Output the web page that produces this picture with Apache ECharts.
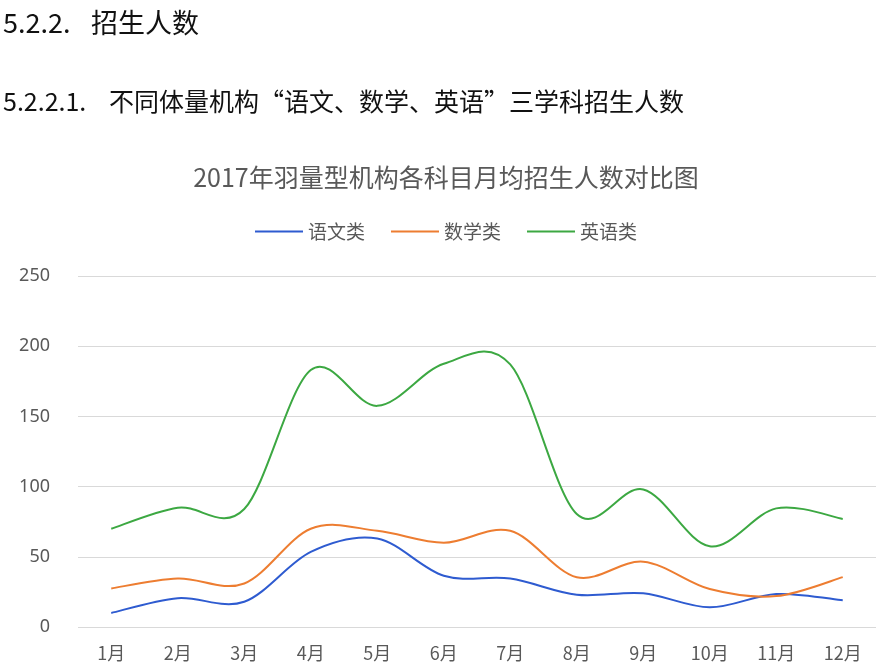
<!DOCTYPE html>
<html>
<head>
<meta charset="utf-8">
<script src="https://cdn.jsdelivr.net/npm/echarts@6/dist/echarts.min.js"></script>
<style>
html, body { margin: 0; padding: 0; background: #fff; }
#wrap { position: relative; width: 892px; height: 668px; overflow: hidden; }
#main { position: absolute; left: 0; top: 0; width: 892px; height: 668px; }
.h { position: absolute; left: 3px; color: #111; font-family: "Noto Sans CJK SC", "Noto Sans", sans-serif; white-space: nowrap; }
#h1 { top: 2px; font-size: 27px; }
#h2 { top: 82px; font-size: 25px; }
#h1 .n { display: inline-block; width: 88px; }
#h2 .n { display: inline-block; width: 106px; }
</style>
</head>
<body>
<div id="wrap">
  <div id="main"></div>
  <div class="h" id="h1"><span class="n">5.2.2.</span>招生人数</div>
  <div class="h" id="h2"><span class="n">5.2.2.1.</span>不同体量机构“语文、数学、英语”三学科招生人数</div>
</div>
<script>
//月份
var months = ['1月','2月','3月','4月','5月','6月','7月','8月','9月','10月','11月','12月'];
//各科目月均招生人数
var chinese = [10, 20.5, 18, 53.5, 63, 36.5, 34.5, 23, 24, 14, 23.5, 19];
var math = [27.5, 34.5, 31, 70, 68.5, 60, 68.5, 35.5, 46.5, 27, 22, 35.5];
var english = [70, 85, 84, 183, 157.5, 187.5, 187, 80.5, 98, 57.5, 84.5, 77];
var seriesNames = ['语文类', '数学类', '英语类'];
var colors = ['#2e5bd0', '#ed7d31', '#3ca842'];

var myChart = echarts.init(document.getElementById('main'));
var txt = '#595959';

//平滑曲线(类似Excel的平滑线)
function curve(name, data, i){
    return {
        name: name,
        type: 'custom',
        data: data.map(function(v, k){ return [k, v]; }),
        itemStyle: { color: colors[i] },
        renderItem: function(params, api){
            if (params.dataIndex !== 0) return;
            var pts = data.map(function(v, k){ return api.coord([k, v]); });
            var d = 'M' + pts[0][0] + ',' + pts[0][1];
            for (var k = 0; k < pts.length - 1; k++) {
                var p0 = pts[k - 1] || pts[k];
                var p1 = pts[k];
                var p2 = pts[k + 1];
                var p3 = pts[k + 2] || pts[k + 1];
                var c1x = p1[0] + (p2[0] - p0[0]) / 6, c1y = p1[1] + (p2[1] - p0[1]) / 6;
                var c2x = p2[0] - (p3[0] - p1[0]) / 6, c2y = p2[1] - (p3[1] - p1[1]) / 6;
                d += ' C' + c1x + ',' + c1y + ' ' + c2x + ',' + c2y + ' ' + p2[0] + ',' + p2[1];
            }
            return {
                type: 'path',
                shape: { pathData: d },
                style: { fill: 'none', stroke: colors[i], lineWidth: 2 }
            };
        }
    };
}

option = {
    animation: false,
    color: colors,
    title: {
        text: '2017年羽量型机构各科目月均招生人数对比图',
        left: 'center',
        top: 160,
        textStyle: { color: txt, fontSize: 25, fontWeight: 'normal', fontFamily: 'Noto Sans CJK SC' }
    },
    legend: {
        top: 217,
        left: 'center',
        itemWidth: 48,
        itemHeight: 10,
        itemGap: 26,
        icon: 'path://M0,4 L48,4 L48,6 L0,6 Z',
        textStyle: { color: txt, fontSize: 19, fontFamily: 'Noto Sans CJK SC' },
        data: seriesNames
    },
    grid: { left: 78, right: 16, top: 276, bottom: 41, containLabel: false },
    xAxis: {
        type: 'category',
        data: months,
        boundaryGap: true,
        axisLine: { show: false },
        axisTick: { show: false },
        axisLabel: { color: txt, fontSize: 18, margin: 17, fontFamily: 'Noto Sans CJK SC' }
    },
    yAxis: {
        type: 'value',
        min: 0,
        max: 250,
        interval: 50,
        axisLine: { show: false },
        axisTick: { show: false },
        axisLabel: { color: txt, fontSize: 18, margin: 28, fontFamily: 'Noto Sans' },
        splitLine: { lineStyle: { color: '#d9d9d9', width: 1 } }
    },
    series: [
        curve(seriesNames[0], chinese, 0),
        curve(seriesNames[1], math, 1),
        curve(seriesNames[2], english, 2)
    ]
};
myChart.setOption(option);
</script>
</body>
</html>
